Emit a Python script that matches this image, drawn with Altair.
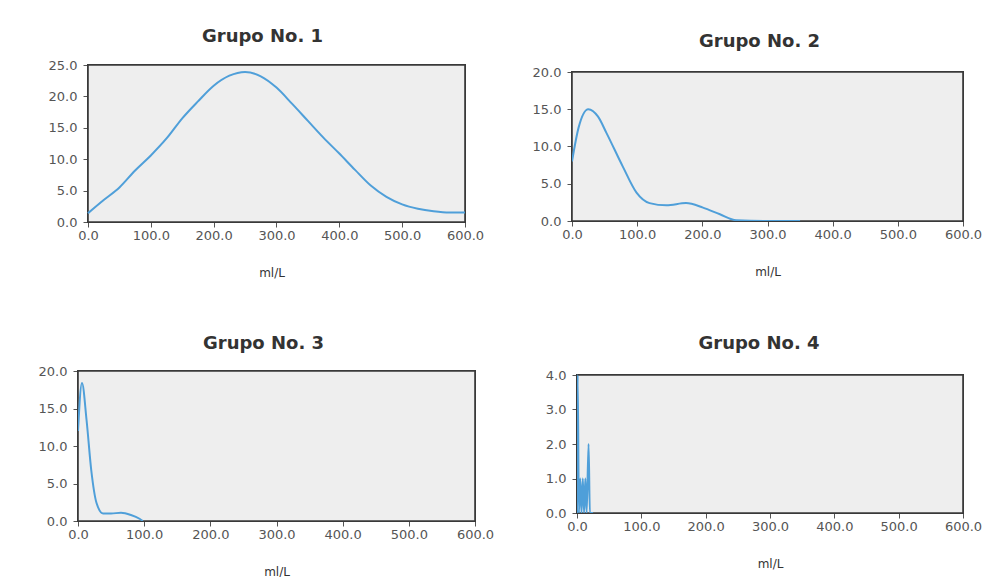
import altair as alt
import pandas as pd

FONT = "DejaVu Sans"
LINE_COLOR = "#4f9fd9"
PLOT_FILL = "#eeeeee"
FRAME = "#3a3a3a"

# ---- data ----
titles = ["Grupo No. 1", "Grupo No. 2", "Grupo No. 3", "Grupo No. 4"]
x_ticks = [0, 100, 200, 300, 400, 500, 600]

g1_x = [0, 25, 50, 75, 100, 125, 150, 175, 200, 225, 250, 275, 300, 325, 350, 375, 400, 425, 450, 475, 500, 525, 550, 575, 600]
g1_y = [1.4, 3.5, 5.5, 8.2, 10.6, 13.3, 16.5, 19.2, 21.7, 23.3, 23.9, 23.2, 21.4, 18.8, 16.1, 13.4, 10.9, 8.3, 5.8, 4.0, 2.8, 2.1, 1.7, 1.5, 1.5]

g2_x = [0, 10, 25, 40, 53, 78, 99, 119, 145, 175, 201, 227, 252, 300, 350]
g2_y = [8.0, 12.5, 15.0, 14.0, 11.8, 7.3, 3.8, 2.4, 2.1, 2.4, 1.8, 0.9, 0.1, 0.0, 0.0]

g3_x = [0, 6, 13, 20, 28, 38, 50, 65, 80, 93, 98]
g3_y = [12.0, 18.4, 13.4, 6.8, 2.4, 1.0, 1.0, 1.1, 0.8, 0.3, 0.0]

g4_x = [0, 1, 3, 5, 7, 9, 11, 13, 15, 18, 20, 25]
g4_y = [0, 4, 0, 1, 0, 1, 0, 1, 0, 2, 0, 0]

y_max = [25, 20, 20, 4]
y_step = [5, 5, 5, 1]


def panel(x, y, title, ymax, ystep, frame_w, frame_h, view_w, view_h,
          tdx, toff, y_axis_offset=0):
    """Frame of frame_w x frame_h px placed at the right/bottom of a view_w x view_h view."""
    df = pd.DataFrame({"x": x, "y": y})
    n = int(round(ymax / ystep))
    yvals = [i * ystep for i in range(n + 1)]
    # extend the domains so the framed area sits where the reference has it
    x_lo = -600.0 * (view_w - frame_w) / frame_w
    y_hi = ymax * view_h / frame_h
    xs = alt.Scale(domain=[x_lo, 600], nice=False, zero=False)
    ys = alt.Scale(domain=[0, y_hi], nice=False, zero=False)
    x_axis = alt.Axis(values=x_ticks, format=".1f", title="ml/L")
    y_axis = alt.Axis(values=yvals, format=".1f", title=None, offset=y_axis_offset)

    frame = (
        alt.Chart(df)
        .mark_rect(fill=PLOT_FILL, stroke=FRAME, strokeWidth=1.6)
        .encode(
            x=alt.X(datum=0, type="quantitative", scale=xs, axis=x_axis),
            x2=alt.X2(datum=600),
            y=alt.Y(datum=0, type="quantitative", scale=ys, axis=y_axis),
            y2=alt.Y2(datum=ymax),
        )
    )
    line = (
        alt.Chart(df)
        .mark_line(interpolate="monotone", color=LINE_COLOR, strokeWidth=2, clip=True)
        .encode(
            x=alt.X("x:Q", scale=xs, axis=x_axis),
            y=alt.Y("y:Q", scale=ys, axis=y_axis),
        )
    )
    return alt.layer(
        frame, line,
        title=alt.TitleParams(title, dx=tdx, offset=toff, fontSize=18, font=FONT,
                              fontWeight="bold", color="#333333", anchor="middle",
                              frame="group"),
    ).properties(width=view_w, height=view_h)


# frame sizes; views share origins per row / column
p1 = panel(g1_x, g1_y, titles[0], y_max[0], y_step[0], 377, 157, 387, 157, -9, 13, y_axis_offset=-10)
p2 = panel(g2_x, g2_y, titles[1], y_max[1], y_step[1], 391, 149, 391, 156, -8, 14)
p3 = panel(g3_x, g3_y, titles[2], y_max[2], y_step[2], 397, 150, 397, 150, -13, 12)
p4 = panel(g4_x, g4_y, titles[3], y_max[3], y_step[3], 386, 138, 386, 142, -11, 16)

row1 = alt.hconcat(p1, p2, spacing=48)
row2 = alt.hconcat(p3, p4, spacing=51)

chart = (
    alt.vconcat(row1, row2, spacing=56)
    .properties(padding={"left": 30, "top": 20, "right": 0, "bottom": 0}, background="white")
    .configure_view(strokeWidth=0)
    .configure_axis(
        grid=False,
        domain=False,
        ticks=True,
        tickSize=5,
        tickColor="#555555",
        labelFont=FONT,
        labelFontSize=13,
        labelColor="#555555",
        labelFlush=False,
        titleFont=FONT,
        titleFontSize=12,
        titleFontWeight="normal",
        titleColor="#333333",
    )
    .configure_axisY(labelPadding=6)
    .configure_axisX(labelPadding=2, titlePadding=25)
)

chart.save("out.html", embed_options={"renderer": "svg", "actions": False})
